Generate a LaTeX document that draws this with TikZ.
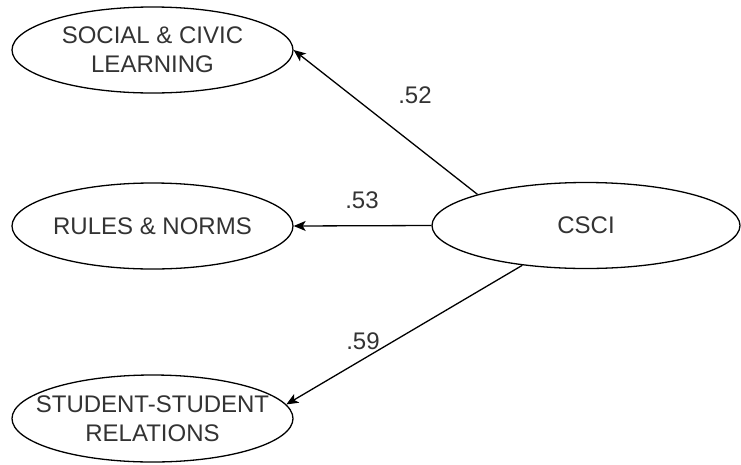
\documentclass[tikz,border=0pt]{standalone}
\usepackage{fontspec}
\setmainfont{Liberation Sans}
\usetikzlibrary{shapes.geometric,arrows.meta}
\definecolor{ink}{HTML}{333333}
\begin{document}
\begin{tikzpicture}[x=1pt,y=-1pt,
  construct/.style={ellipse,draw=black,line width=1.3pt,fill=white,inner sep=0pt,
    minimum width=281pt,minimum height=86pt,
    label={[align=center,text=ink,font=\fontsize{24}{29}\selectfont,inner sep=0pt]center:#1}},
  path/.style={draw=black,line width=1.3pt,-{Stealth[length=12pt,width=10pt,inset=3pt]}},
  coef/.style={text=ink,font=\fontsize{24}{29}\selectfont,inner sep=0pt}]
  \useasboundingbox (0,0) rectangle (741,464);
  \fill[white] (0,0) rectangle (741,464);

  % latent factor and its three indicators
  \node[construct={CSCI},minimum width=308pt] (csci) at (586,225.5) {};
  \node[construct={SOCIAL \& CIVIC\\LEARNING}] (social) at (152.5,50) {};
  \node[construct={RULES \& NORMS}] (rules) at (152.5,226) {};
  \node[construct={STUDENT-STUDENT\\RELATIONS},minimum height=87pt] (student) at (152.5,418.5) {};

  % loadings
  \draw[path] (csci.164) -- (social.east);
  \draw[path] (csci.west) -- (rules.east);
  \draw[path] (csci.212) -- (student.6);

  \node[coef] (l52) at (415,95) {.52};
  \node[coef] (l53) at (362,200) {.53};
  \node[coef] (l59) at (363,341) {.59};
\end{tikzpicture}
\end{document}
